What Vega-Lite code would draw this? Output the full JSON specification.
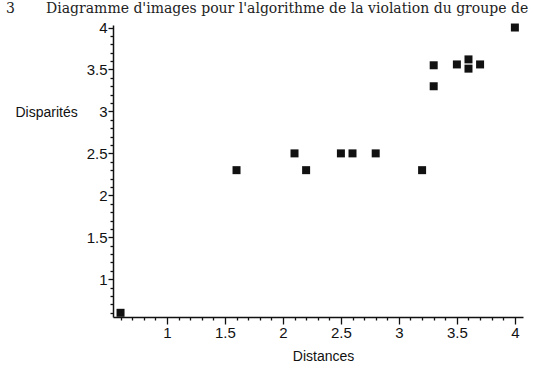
{
  "$schema": "https://vega.github.io/schema/vega-lite/v6.json",
  "autosize": "none",
  "width": 410,
  "height": 292,
  "padding": {"left": 113, "top": 25, "right": 33, "bottom": 54},
  "background": "white",
  "title": {
    "text": "3\u00a0\u00a0\u00a0\u00a0\u00a0\u00a0\u00a0Diagramme d'images pour l'algorithme de la violation du groupe de",
    "anchor": "start",
    "frame": "group",
    "font": "DejaVu Serif",
    "fontSize": 14,
    "fontWeight": "normal",
    "color": "#222",
    "baseline": "alphabetic",
    "offset": 5,
    "dy": 11,
    "dx": -107
  },
  "data": {
    "values": [
      {"Distances": 0.6, "Disparites": 0.6},
      {"Distances": 1.6, "Disparites": 2.3},
      {"Distances": 2.1, "Disparites": 2.5},
      {"Distances": 2.2, "Disparites": 2.3},
      {"Distances": 2.5, "Disparites": 2.5},
      {"Distances": 2.6, "Disparites": 2.5},
      {"Distances": 2.8, "Disparites": 2.5},
      {"Distances": 3.2, "Disparites": 2.3},
      {"Distances": 3.3, "Disparites": 3.3},
      {"Distances": 3.3, "Disparites": 3.55},
      {"Distances": 3.5, "Disparites": 3.56},
      {"Distances": 3.6, "Disparites": 3.62},
      {"Distances": 3.6, "Disparites": 3.51},
      {"Distances": 3.7, "Disparites": 3.56},
      {"Distances": 4.0, "Disparites": 4.0}
    ]
  },
  "mark": {"type": "point", "shape": "square", "filled": true, "size": 64, "color": "#111", "opacity": 1},
  "encoding": {
    "x": {
      "field": "Distances",
      "type": "quantitative",
      "scale": {"domain": [0.535, 4.07], "nice": false, "zero": false},
      "axis": {
        "title": "Distances",
        "titleFont": "Liberation Sans",
        "titleFontSize": 14,
        "titleFontWeight": "normal",
        "titleColor": "#111",
        "titleX": 210,
        "titleY": 39,
        "titleBaseline": "middle",
        "titleAlign": "center",
        "values": [0.6,0.7,0.8,0.9,1,1.1,1.2,1.3,1.4,1.5,1.6,1.7,1.8,1.9,2,2.1,2.2,2.3,2.4,2.5,2.6,2.7,2.8,2.9,3,3.1,3.2,3.3,3.4,3.5,3.6,3.7,3.8,3.9,4],
        "format": ".1~f",
        "labelExpr": "abs(datum.value*2 - round(datum.value*2)) < 0.001 ? datum.label : ''",
        "labelOverlap": false,
        "labelFlush": false,
        "labelFont": "Liberation Sans",
        "labelFontSize": 15,
        "labelColor": "#111",
        "labelPadding": 1,
        "tickSize": {"condition": {"test": "abs(datum.value*2 - round(datum.value*2)) < 0.001", "value": 7}, "value": 3},
        "tickColor": "#111",
        "tickWidth": 1.3,
        "domainColor": "#111",
        "domainWidth": 1.5,
        "grid": false
      }
    },
    "y": {
      "field": "Disparites",
      "type": "quantitative",
      "scale": {"domain": [0.55, 4.03], "nice": false, "zero": false},
      "axis": {
        "title": "Disparités",
        "titleFont": "Liberation Sans",
        "titleFontSize": 14,
        "titleFontWeight": "normal",
        "titleColor": "#111",
        "titleAngle": 0,
        "titleAlign": "left",
        "titleBaseline": "middle",
        "titleX": -98,
        "titleY": 87,
        "values": [0.6,0.7,0.8,0.9,1,1.1,1.2,1.3,1.4,1.5,1.6,1.7,1.8,1.9,2,2.1,2.2,2.3,2.4,2.5,2.6,2.7,2.8,2.9,3,3.1,3.2,3.3,3.4,3.5,3.6,3.7,3.8,3.9,4],
        "format": ".1~f",
        "labelExpr": "abs(datum.value*2 - round(datum.value*2)) < 0.001 ? datum.label : ''",
        "labelOverlap": false,
        "labelFlush": false,
        "labelFont": "Liberation Sans",
        "labelFontSize": 15,
        "labelColor": "#111",
        "labelPadding": 1,
        "tickSize": {"condition": {"test": "abs(datum.value*2 - round(datum.value*2)) < 0.001", "value": 5}, "value": 3},
        "tickColor": "#111",
        "tickWidth": 1.3,
        "domainColor": "#111",
        "domainWidth": 1.5,
        "grid": false
      }
    }
  },
  "config": {"view": {"stroke": null}}
}
